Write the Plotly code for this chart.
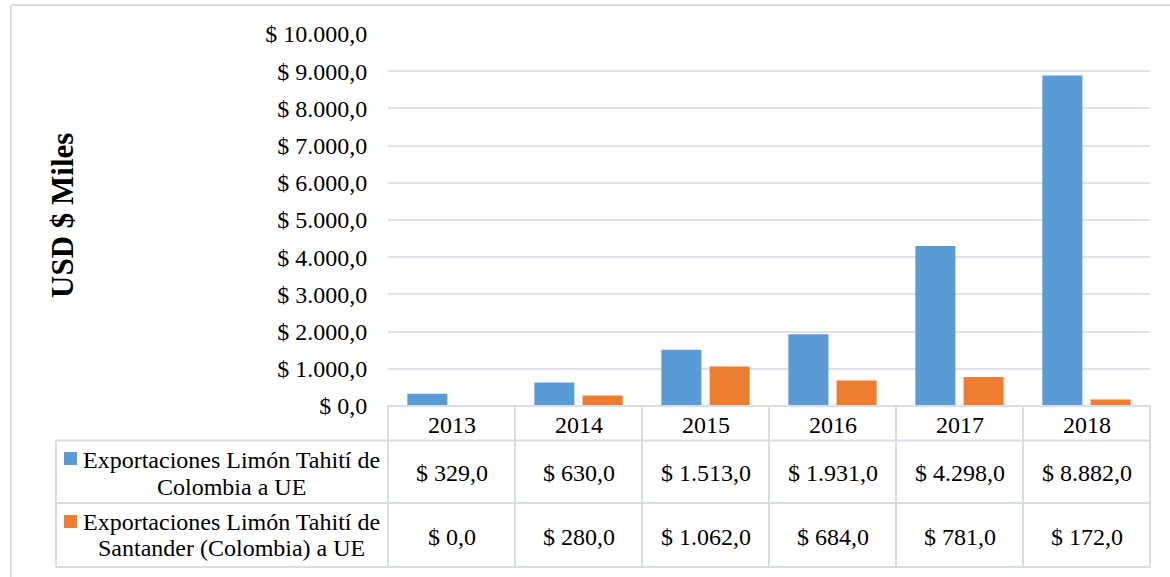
import plotly.graph_objects as go

# ---- data ----
years = ["2013", "2014", "2015", "2016", "2017", "2018"]
colombia = [329.0, 630.0, 1513.0, 1931.0, 4298.0, 8882.0]
santander = [0.0, 280.0, 1062.0, 684.0, 781.0, 172.0]
series1_lines = ["Exportaciones Limón Tahití de", "Colombia a UE"]
series2_lines = ["Exportaciones Limón Tahití de", "Santander (Colombia) a UE"]
y_ticks = [0, 1000, 2000, 3000, 4000, 5000, 6000, 7000, 8000, 9000, 10000]
y_title = "USD $ Miles"

BLUE = "#5b9bd5"
ORANGE = "#ed7d31"
GRID = "#dfe2e8"
LINE = "#d9dde6"
FONT = "Liberation Serif"
FS = 24

W, H = 1170, 577
PL, PR, PT, PB = 388, 1150, 34, 406  # plot area in pixels


def px_x(px):
    return (px - PL) / (PR - PL)


def px_y(py):
    return (PB - py) / (PB - PT)


def fmt(v):
    s = f"{v:,.1f}"
    s = s.replace(",", "#").replace(".", ",").replace("#", ".")
    return "&#36; " + s


fig = go.Figure()
fig.add_trace(go.Bar(x=years, y=colombia, name=" ".join(series1_lines),
                     marker=dict(color=BLUE, line=dict(width=0))))
fig.add_trace(go.Bar(x=years, y=santander, name=" ".join(series2_lines),
                     marker=dict(color=ORANGE, line=dict(width=0))))

shapes = []
n = len(years)
row_top, row_h1, row_r1, row_bot = 406, 440.5, 503, 567
leg_left = 56
shapes.append(dict(type="line", xref="paper", yref="paper", x0=0, x1=1,
                   y0=px_y(row_top), y1=px_y(row_top), line=dict(color=LINE, width=2)))
for yy in (row_h1, row_r1, row_bot):
    shapes.append(dict(type="line", xref="paper", yref="paper", x0=px_x(leg_left), x1=1,
                       y0=px_y(yy), y1=px_y(yy), line=dict(color=LINE, width=2)))
for i in range(n + 1):
    xx = i / n
    shapes.append(dict(type="line", xref="paper", yref="paper", x0=xx, x1=xx,
                       y0=px_y(row_top), y1=px_y(row_bot), line=dict(color=LINE, width=2)))
shapes.append(dict(type="line", xref="paper", yref="paper", x0=px_x(leg_left), x1=px_x(leg_left),
                   y0=px_y(row_h1), y1=px_y(row_bot), line=dict(color=LINE, width=2)))
for color, y0 in ((BLUE, 452), (ORANGE, 515)):
    shapes.append(dict(type="rect", xref="paper", yref="paper", x0=px_x(64), x1=px_x(77),
                       y0=px_y(y0), y1=px_y(y0 + 13), fillcolor=color, line=dict(width=0)))
# outer frame: only top and left edges visible
shapes.append(dict(type="line", xref="paper", yref="paper", x0=px_x(11), x1=px_x(1172),
                   y0=px_y(5), y1=px_y(5), line=dict(color=LINE, width=2)))
shapes.append(dict(type="line", xref="paper", yref="paper", x0=px_x(11), x1=px_x(11),
                   y0=px_y(5), y1=px_y(580), line=dict(color=LINE, width=2)))

annotations = []
font = dict(family=FONT, size=FS, color="black")
for i, yr in enumerate(years):
    cx = (i + 0.5) / n
    annotations.append(dict(x=cx, xref="paper", y=px_y(425), yref="paper", text=yr,
                            showarrow=False, font=font, xanchor="center", yanchor="middle"))
    annotations.append(dict(x=cx, xref="paper", y=px_y(473), yref="paper", text=fmt(colombia[i]),
                            showarrow=False, font=font, xanchor="center", yanchor="middle"))
    annotations.append(dict(x=cx, xref="paper", y=px_y(536.5), yref="paper", text=fmt(santander[i]),
                            showarrow=False, font=font, xanchor="center", yanchor="middle"))
for lines, ys in ((series1_lines, (460, 487)), (series2_lines, (522, 548))):
    for txt, yy in zip(lines, ys):
        annotations.append(dict(x=px_x(231), xref="paper", y=px_y(yy), yref="paper", text=txt,
                                showarrow=False, font=font, xanchor="center", yanchor="middle"))
annotations.append(dict(x=px_x(62), xref="paper", y=px_y(216), yref="paper",
                        text="<b>" + y_title.replace("$", "&#36;") + "</b>",
                        textangle=-90, showarrow=False,
                        font=dict(family=FONT, size=31, color="black"),
                        xanchor="center", yanchor="middle"))

fig.update_layout(
    width=W, height=H,
    margin=dict(l=PL, r=W - PR, t=PT, b=H - PB, pad=0),
    paper_bgcolor="white", plot_bgcolor="white",
    barmode="group", bargap=0.24, bargroupgap=0.17,
    showlegend=False,
    font=dict(family=FONT, size=FS, color="black"),
    xaxis=dict(type="category", showticklabels=False, showline=False, showgrid=False, zeroline=False,
               range=[-0.5, n - 0.5], fixedrange=True),
    yaxis=dict(range=[0, 10000], tickvals=y_ticks, ticktext=[fmt(v) for v in y_ticks],
               showgrid=True, gridcolor=GRID, gridwidth=1.5, zeroline=False, showline=False,
               ticks="outside", ticklen=15, tickcolor="rgba(0,0,0,0)",
               tickfont=dict(family=FONT, size=FS, color="black")),
    shapes=shapes,
    annotations=annotations,
)

fig.write_html("out.html", config={"displayModeBar": False},
               post_script="document.body.style.margin='0';document.body.style.overflow='hidden';")
